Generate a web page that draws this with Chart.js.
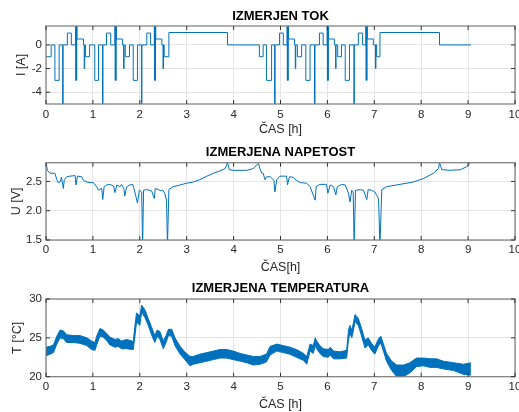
<!DOCTYPE html>
<html>
<head>
<meta charset="utf-8">
<title>Meritve</title>
<script src="https://cdn.jsdelivr.net/npm/chart.js@4/dist/chart.umd.min.js"></script>
<style>
  body { margin: 0; background: #fff; width: 519px; height: 412px; overflow: hidden; position: relative; }
  canvas { position: absolute; left: 0; }
</style>
</head>
<body>
<canvas id="tokChart" width="519" height="137" style="top:0"></canvas>
<canvas id="napChart" width="519" height="138" style="top:137px"></canvas>
<canvas id="tempChart" width="519" height="138" style="top:274px"></canvas>
<script>
// axis ticks
const xTicks = [0, 1, 2, 3, 4, 5, 6, 7, 8, 9, 10];
const tokTicks = [-4, -2, 0];
const napTicks = [1.5, 2, 2.5];
const tempTicks = [20, 25, 30];

// current [A] - value holds from the given time on (hours)
const tokTime = [
  0, 0.11, 0.19, 0.28, 0.355, 0.365, 0.455, 0.54, 0.63, 0.635, 0.64, 0.648, 0.655, 0.66, 0.80, 0.815, 0.825, 0.84, 0.93,
  1.04, 1.12, 1.205, 1.215, 1.29, 1.38, 1.47, 1.475, 1.48, 1.488, 1.495, 1.50, 1.63, 1.655, 1.665, 1.69, 1.78,
  1.86, 1.95, 2.035, 2.045, 2.15, 2.23, 2.31, 2.315, 2.32, 2.328, 2.335, 2.34, 2.47, 2.495, 2.505, 2.52, 2.62, 3.87,
  4.55, 4.63, 4.70, 4.81, 4.875, 4.885, 4.98, 5.06, 5.14, 5.145, 5.15, 5.158, 5.165, 5.17, 5.30, 5.315, 5.325, 5.36, 5.45,
  5.54, 5.63, 5.725, 5.735, 5.83, 5.91, 5.995, 6.0, 6.005, 6.013, 6.02, 6.025, 6.15, 6.175, 6.185, 6.22, 6.30,
  6.38, 6.47, 6.565, 6.575, 6.66, 6.75, 6.82, 6.825, 6.83, 6.838, 6.845, 6.85, 6.98, 7.025, 7.035, 7.05, 7.12, 8.39, 9.06
];
const tokVal = [
  -1, 0, -3, 0, -6, 0, 1, 0, 2, -3, 2, -3, 2, 0.5, 0, -2, 0, -1, 0,
  -3, 0, -6, 0, 1, 0, 2, -3, 2, -3, 2, 0.5, 0, -2, 0, -1, 0,
  -3, 0, -6, 0, 1, 0, 2, -3, 2, -3, 2, 0.5, 0, -2, 0, -1, 1.05, 0,
  -1, 0, -3, 0, -6, 0, 1, 0, 2, -3, 2, -3, 2, 0.5, 0, -2, 0, -1, 0,
  -3, 0, -6, 0, 1, 0, 2, -3, 2, -3, 2, 0.5, 0, -2, 0, -1, 0,
  -3, 0, -6, 0, 1, 0, 2, -3, 2, -3, 2, 0.5, 0, -2, 0, -1, 1.05, 0, 0
];

// voltage [V]
const napTime = [
  0, 0.03, 0.085, 0.19, 0.23, 0.26, 0.30, 0.33, 0.37, 0.39, 0.44, 0.51, 0.62, 0.64, 0.67, 0.76, 0.80, 0.87, 0.94,
  1.01, 1.08, 1.12, 1.19, 1.21, 1.24, 1.29, 1.36, 1.44, 1.47, 1.51, 1.58, 1.61, 1.66, 1.68, 1.72, 1.79, 1.85, 1.90, 1.95, 1.99,
  2.04, 2.06, 2.08, 2.15, 2.25, 2.31, 2.33, 2.40, 2.45, 2.49, 2.53, 2.57, 2.59, 2.62, 2.71, 2.86,
  3.00, 3.14, 3.28, 3.43, 3.57, 3.71, 3.82, 3.87, 3.91, 3.99, 4.28, 4.42, 4.53, 4.56, 4.60, 4.63, 4.67, 4.70, 4.78, 4.86, 4.88, 4.92, 4.99,
  5.13, 5.15, 5.19, 5.27, 5.34, 5.42, 5.56, 5.63, 5.74, 5.76, 5.84, 5.98,
  6.01, 6.06, 6.13, 6.18, 6.21, 6.30, 6.38, 6.45, 6.48, 6.52, 6.55, 6.57, 6.60, 6.70, 6.77, 6.84, 6.87, 6.94,
  7.01, 7.09, 7.12, 7.16, 7.26, 7.55, 7.83, 8.05, 8.26, 8.37, 8.39, 8.44, 8.62, 8.83, 8.97, 9.04, 9.06
];
const napVal = [
  2.82, 2.69, 2.64, 2.64, 2.53, 2.48, 2.49, 2.57, 2.38, 2.53, 2.58, 2.59, 2.60, 2.44, 2.59, 2.58, 2.52, 2.49, 2.48,
  2.48, 2.41, 2.35, 2.38, 2.19, 2.41, 2.44, 2.45, 2.42, 2.31, 2.44, 2.41, 2.45, 2.38, 2.25, 2.41, 2.44, 2.45, 2.30, 2.13, 2.35,
  2.32, 1.4, 2.35, 2.36, 2.34, 2.21, 2.38, 2.36, 2.34, 2.35, 2.30, 2.18, 1.4, 2.36, 2.41, 2.44,
  2.47, 2.49, 2.53, 2.59, 2.64, 2.68, 2.72, 2.82, 2.70, 2.69, 2.69, 2.72, 2.81, 2.72, 2.64, 2.64, 2.53, 2.58, 2.58, 2.52, 2.32, 2.53, 2.59,
  2.59, 2.44, 2.58, 2.57, 2.52, 2.48, 2.47, 2.41, 2.18, 2.41, 2.45, 2.45,
  2.30, 2.44, 2.41, 2.27, 2.41, 2.45, 2.44, 2.30, 2.15, 2.35, 2.32, 1.4, 2.35, 2.36, 2.35, 2.19, 2.36, 2.35,
  2.32, 2.21, 1.4, 2.36, 2.41, 2.45, 2.49, 2.55, 2.64, 2.72, 2.82, 2.70, 2.69, 2.70, 2.75, 2.81, 2.84
];

// temperature [°C] - noisy band, lower and upper edge
const tempTime = [
  0, 0.085, 0.16, 0.23, 0.30, 0.37, 0.44, 0.58, 0.72, 0.87, 0.97, 1.045, 1.08, 1.15, 1.22, 1.29, 1.36, 1.47, 1.54, 1.61,
  1.72, 1.83, 1.86, 1.90, 1.93, 1.97, 2.00, 2.04, 2.11, 2.18, 2.25, 2.32, 2.37, 2.43, 2.50, 2.56, 2.61, 2.68, 2.75, 2.86,
  2.96, 3.07, 3.14, 3.28, 3.43, 3.57, 3.71, 3.85, 3.99, 4.14, 4.28, 4.42, 4.56, 4.70, 4.78, 4.92, 5.06, 5.20, 5.34, 5.49,
  5.56, 5.63, 5.70, 5.74, 5.77, 5.84, 5.91, 6.02, 6.06, 6.13, 6.27, 6.41, 6.45, 6.48, 6.52, 6.55, 6.59, 6.66, 6.73, 6.80,
  6.87, 6.94, 7.01, 7.09, 7.14, 7.19, 7.26, 7.37, 7.48, 7.62, 7.76, 7.90, 8.05, 8.19, 8.33, 8.47, 8.69, 8.90, 9.06
];
const tempLow = [
  22.7, 22.9, 23.1, 24.2, 25.0, 24.9, 24.4, 24.4, 24.3, 24.0, 23.5, 23.4, 24.1, 25.2, 25.1, 24.7, 24.1, 23.8, 23.9, 23.6,
  23.6, 23.5, 23.5, 25.4, 27.0, 26.8, 26.6, 28.3, 27.6, 26.6, 25.4, 24.4, 25.2, 24.8, 23.6, 24.4, 25.3, 25.2, 24.0, 22.9,
  22.2, 21.4, 21.6, 21.8, 22.0, 22.2, 22.4, 22.4, 22.2, 22.0, 21.8, 21.5, 21.6, 21.9, 22.8, 23.3, 23.1, 22.9, 22.5, 22.1,
  21.6, 23.3, 23.0, 24.0, 23.6, 23.0, 22.6, 22.5, 22.8, 22.3, 22.3, 22.4, 24.8, 25.6, 25.0, 25.8, 27.1, 26.6, 25.2, 23.7,
  24.1, 23.4, 22.9, 24.0, 24.3, 23.4, 22.0, 20.8, 20.0, 20.0, 20.5, 21.3, 21.4, 21.2, 21.2, 21.0, 20.8, 20.3, 20.2
];
const tempHigh = [
  23.8, 23.9, 24.1, 25.2, 26.0, 25.9, 25.4, 25.3, 25.3, 25.0, 24.6, 24.4, 25.2, 26.2, 26.0, 25.6, 25.1, 24.8, 24.9, 24.6,
  24.8, 24.6, 24.5, 26.8, 28.2, 28.0, 27.8, 29.2, 28.6, 27.5, 26.4, 25.3, 26.0, 25.8, 24.6, 25.3, 26.1, 26.1, 25.0, 23.9,
  23.2, 22.6, 22.6, 22.9, 23.1, 23.3, 23.5, 23.5, 23.3, 23.0, 22.8, 22.6, 22.6, 22.9, 23.9, 24.2, 24.0, 23.8, 23.5, 23.0,
  22.6, 24.2, 24.0, 25.0, 24.6, 24.0, 23.6, 23.5, 23.8, 23.3, 23.2, 23.4, 26.0, 26.6, 26.0, 26.8, 28.0, 27.5, 26.2, 24.7,
  25.0, 24.3, 23.8, 24.9, 25.2, 24.3, 23.0, 22.0, 21.5, 21.5, 21.8, 22.4, 22.4, 22.3, 22.3, 22.0, 21.8, 21.6, 21.8
];

const FONT = '"Liberation Sans", Arial, sans-serif';
const BLUE = '#0072BD';
const TEXT = '#262626';

const pts = (xs, ys) => xs.map((x, i) => ({ x: x, y: ys[i] }));

// MATLAB-like box with inward ticks on all sides
const boxPlugin = {
  id: 'matlabBox',
  afterDraw(chart) {
    const { ctx, chartArea: a, scales } = chart;
    ctx.save();
    ctx.strokeStyle = '#7a7a7a';
    ctx.lineWidth = 1.2;
    ctx.strokeRect(a.left, a.top, a.right - a.left, a.bottom - a.top);
    ctx.beginPath();
    scales.x.ticks.forEach(t => {
      const px = scales.x.getPixelForValue(t.value);
      ctx.moveTo(px, a.top); ctx.lineTo(px, a.top + 4);
      ctx.moveTo(px, a.bottom); ctx.lineTo(px, a.bottom - 4);
    });
    scales.y.ticks.forEach(t => {
      const py = scales.y.getPixelForValue(t.value);
      ctx.moveTo(a.left, py); ctx.lineTo(a.left + 4, py);
      ctx.moveTo(a.right, py); ctx.lineTo(a.right - 4, py);
    });
    ctx.strokeStyle = '#333';
    ctx.lineWidth = 1;
    ctx.stroke();
    ctx.restore();
  }
};

function makeChart(id, s) {
  const canvas = document.getElementById(id);
  return new Chart(canvas.getContext('2d'), {
    type: 'line',
    data: { datasets: s.datasets },
    options: {
      responsive: false,
      animation: false,
      layout: { padding: { left: 0, right: 4, top: 0, bottom: 0 } },
      plugins: {
        legend: { display: false },
        tooltip: { enabled: false },
        title: {
          display: true, text: s.title, color: '#000', fullSize: false,
          font: { family: FONT, size: 13, weight: 'bold' },
          padding: { top: s.titleTop, bottom: s.titleBottom }
        }
      },
      scales: {
        x: {
          type: 'linear', min: 0, max: 10,
          afterBuildTicks: sc => { sc.ticks = xTicks.map(v => ({ value: v })); },
          afterFit: sc => { sc.height = canvas.height - s.areaBottom; sc.paddingLeft = 0; sc.paddingRight = 0; },
          ticks: { color: TEXT, font: { family: FONT, size: 11.5 }, padding: s.tickPad, maxRotation: 0, autoSkip: false },
          grid: { color: '#e4e4e4', drawTicks: false },
          border: { display: false },
          title: { display: true, text: s.xTitle, color: TEXT, font: { family: FONT, size: 12.5 }, padding: { top: 0, bottom: s.xTitleBottom } }
        },
        y: {
          min: s.yMin, max: s.yMax,
          afterBuildTicks: sc => { sc.ticks = s.yTicks.map(v => ({ value: v })); },
          afterFit: sc => { sc.width = 46; sc.paddingTop = 0; sc.paddingBottom = 0; },
          ticks: { color: TEXT, font: { family: FONT, size: 11.5 }, padding: 4 },
          grid: { color: '#e4e4e4', drawTicks: false },
          border: { display: false },
          title: { display: true, text: s.yTitle, color: TEXT, font: { family: FONT, size: 12.5 }, padding: { top: s.yTitleLeft, bottom: 0 } }
        }
      }
    },
    plugins: [boxPlugin]
  });
}

makeChart('tokChart', {
  title: 'IZMERJEN TOK', titleTop: 8.5, titleBottom: 1.9,
  areaBottom: 104, tickPad: 4, xTitle: 'ČAS [h]', xTitleBottom: 0,
  yMin: -5, yMax: 1.6, yTicks: tokTicks, yTitle: 'I [A]', yTitleLeft: 14.5,
  datasets: [{
    data: pts(tokTime, tokVal), stepped: true, borderColor: BLUE, borderWidth: 1,
    pointRadius: 0, fill: false, clip: 0
  }]
});

makeChart('napChart', {
  title: 'IZMERJENA NAPETOST', titleTop: 7.7, titleBottom: 2.4,
  areaBottom: 103, tickPad: 3, xTitle: 'ČAS[h]', xTitleBottom: 0,
  yMin: 1.5, yMax: 2.82, yTicks: napTicks, yTitle: 'U [V]', yTitleLeft: 9,
  datasets: [{
    data: pts(napTime, napVal), borderColor: BLUE, borderWidth: 1,
    pointRadius: 0, fill: false, tension: 0, clip: 0
  }]
});

makeChart('tempChart', {
  title: 'IZMERJENA TEMPERATURA', titleTop: 6.5, titleBottom: 2.9,
  areaBottom: 102.7, tickPad: 3, xTitle: 'ČAS [h]', xTitleBottom: 0,
  yMin: 20, yMax: 30, yTicks: tempTicks, yTitle: 'T [°C]', yTitleLeft: 10.5,
  datasets: [
    { data: pts(tempTime, tempLow), borderColor: BLUE, borderWidth: 1, pointRadius: 0, fill: false, clip: 0 },
    { data: pts(tempTime, tempHigh), borderColor: BLUE, borderWidth: 1, pointRadius: 0, fill: '-1', backgroundColor: BLUE, clip: 0 }
  ]
});
</script>
</body>
</html>
